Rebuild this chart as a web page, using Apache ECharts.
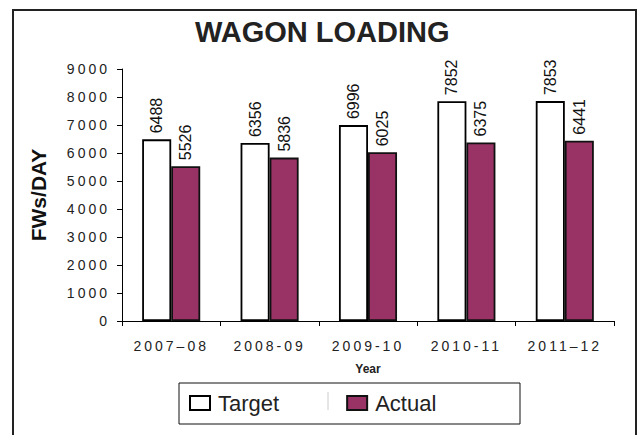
<!DOCTYPE html>
<html>
<head>
<meta charset="utf-8">
<script src="https://cdn.jsdelivr.net/npm/echarts@6/dist/echarts.min.js"></script>
<style>
  html, body { margin: 0; padding: 0; background: #fff; }
  #chart { width: 639px; height: 435px; }
  /* spaced-out tick labels, like the original */
  #chart text[style*="Liberation Sans"] { letter-spacing: 3px; }
</style>
</head>
<body>
<div id="chart"></div>
<script>
const years = ['2007–08', '2008-09', '2009-10', '2010-11', '2011–12']
const target = [6488, 6356, 6996, 7852, 7853]
const actual = [5526, 5836, 6025, 6375, 6441]
const yTicks = { min: 0, max: 9000, interval: 1000 }

const chart = echarts.init(document.getElementById('chart'), null, { renderer: 'svg' })

const barLabel = {
  show: true,
  position: 'top',
  rotate: 90,
  align: 'left',
  verticalAlign: 'middle',
  distance: 6,
  color: '#111',
  fontSize: 16,
  fontFamily: 'Arial'
}

const option = {
  animation: false,
  backgroundColor: '#fff',
  title: {
    text: 'WAGON LOADING',
    left: 195,
    top: 17,
    padding: 0,
    textStyle: { fontSize: 29, fontWeight: 'bold', color: '#222', fontFamily: 'Arial' }
  },
  legend: {
    data: ['Target', 'Actual'],
    icon: 'rect',
    left: 189,
    top: 392,
    padding: 0,
    itemWidth: 20,
    itemHeight: 14,
    itemGap: 67,
    textStyle: { fontSize: 22, color: '#222', fontFamily: 'Arial', padding: [0, 0, 0, 3] }
  },
  grid: {
    left: 122,
    right: 25,
    top: 69,
    bottom: 114
  },
  xAxis: {
    type: 'category',
    data: years,
    name: 'Year',
    nameLocation: 'middle',
    nameGap: 42,
    nameTextStyle: { fontSize: 12, fontWeight: 'bold', color: '#222', fontFamily: 'Arial' },
    axisLine: { lineStyle: { color: '#000', width: 1 } },
    axisTick: { show: true, length: 5, lineStyle: { color: '#000' } },
    axisLabel: { fontSize: 14, color: '#222', fontFamily: 'Liberation Sans', margin: 18 }
  },
  yAxis: {
    type: 'value',
    min: yTicks.min,
    max: yTicks.max,
    interval: yTicks.interval,
    name: 'FWs/DAY',
    nameLocation: 'middle',
    nameRotate: 90,
    nameGap: 73,
    nameTextStyle: { fontSize: 21, fontWeight: 'bold', color: '#111', fontFamily: 'Arial' },
    axisLine: { show: true, lineStyle: { color: '#000', width: 1 } },
    axisTick: { show: true, length: 5, lineStyle: { color: '#000' } },
    axisLabel: {
      fontSize: 14,
      color: '#222',
      fontFamily: 'Liberation Sans',
      margin: 12,
      formatter: v => String(v)
    },
    splitLine: { show: false }
  },
  series: [
    {
      name: 'Target',
      type: 'bar',
      data: target,
      barGap: '0%',
      barCategoryGap: '41%',
      itemStyle: { color: '#fff', borderColor: '#000', borderWidth: 1.8 },
      label: barLabel
    },
    {
      name: 'Actual',
      type: 'bar',
      data: actual,
      itemStyle: { color: '#993366', borderColor: '#111', borderWidth: 1.8 },
      label: barLabel
    }
  ],
  graphic: [
    {
      type: 'rect',
      shape: { x: 13, y: 10, width: 623, height: 440 },
      style: { fill: null, stroke: '#222', lineWidth: 2 },
      silent: true
    },
    {
      type: 'rect',
      shape: { x: 179, y: 383, width: 341, height: 41 },
      style: { fill: null, stroke: '#111', lineWidth: 1 },
      silent: true
    },
    {
      type: 'line',
      shape: { x1: 328, y1: 392, x2: 328, y2: 410 },
      style: { stroke: '#ccc', lineWidth: 1 },
      silent: true
    }
  ]
}

chart.setOption(option)
</script>
</body>
</html>
